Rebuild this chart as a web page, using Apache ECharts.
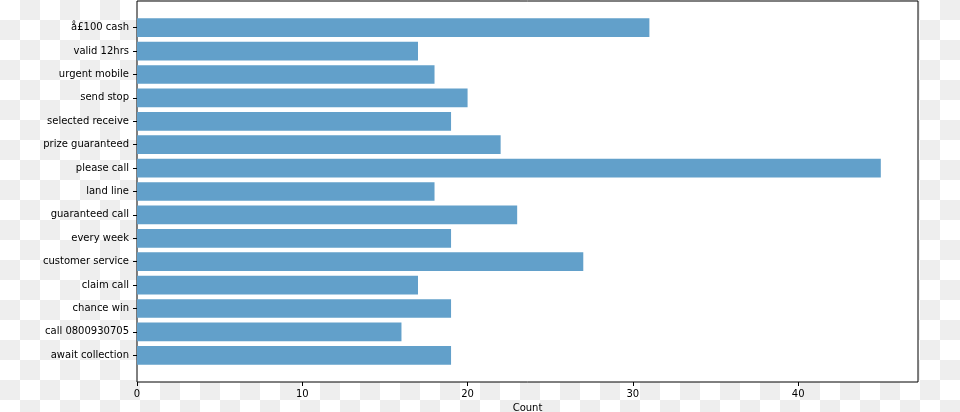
<!DOCTYPE html>
<html>
<head>
<meta charset="utf-8">
<script src="https://cdn.jsdelivr.net/npm/echarts@6/dist/echarts.min.js"></script>
<style>
html,body{margin:0;padding:0;}
body{width:960px;height:412px;background:repeating-conic-gradient(#eeeeee 0 25%, #ffffff 0 50%) 0 0/40px 40px;}
#c{width:960px;height:412px;}
</style>
</head>
<body>
<div id="c"></div>
<script>
const categories = ['await collection','call 0800930705','chance win','claim call','customer service','every week','guaranteed call','land line','please call','prize guaranteed','selected receive','send stop','urgent mobile','valid 12hrs','å£100 cash'];
const counts = [19,16,19,17,27,19,23,18,45,22,19,20,18,17,31];
const xTicks = [0,10,20,30,40];
const xMax = 47.25;

const font = 'DejaVu Sans';
const chart = echarts.init(document.getElementById('c'), null, {renderer:'canvas'});
chart.setOption({
  backgroundColor: 'transparent',
  animation: false,
  grid: [
    {left:137, top:1, width:781, height:381, show:true, backgroundColor:'#ffffff', borderColor:'#000000', borderWidth:1, containLabel:false, outerBoundsMode:'none'},
    {left:137, top:16, width:781, height:351, show:false, containLabel:false, outerBoundsMode:'none'}
  ],
  xAxis: [
    {gridIndex:0, type:'value', min:0, max:xMax,
     axisLine:{show:false}, splitLine:{show:false},
     axisTick:{show:true, length:4, lineStyle:{color:'#000'}, customValues:xTicks},
     axisLabel:{fontFamily:font, fontSize:10, color:'#000', margin:7, customValues:xTicks},
     name:'Count', nameLocation:'middle', nameGap:19,
     nameTextStyle:{fontFamily:font, fontSize:10, color:'#000'}},
    {gridIndex:1, type:'value', min:0, max:xMax, show:false}
  ],
  yAxis: [
    {gridIndex:0, type:'value', min:0, max:1, show:false},
    {gridIndex:1, type:'category', data:categories,
     axisLine:{show:false}, splitLine:{show:false},
     axisTick:{show:true, alignWithLabel:true, length:4, lineStyle:{color:'#000'}},
     axisLabel:{fontFamily:font, fontSize:10, color:'#000', margin:8, interval:0}}
  ],
  series: [{
    type:'bar', xAxisIndex:1, yAxisIndex:1, data:counts,
    barCategoryGap:'20%',
    itemStyle:{color:'#62a0ca'}
  }]
});
</script>
</body>
</html>
